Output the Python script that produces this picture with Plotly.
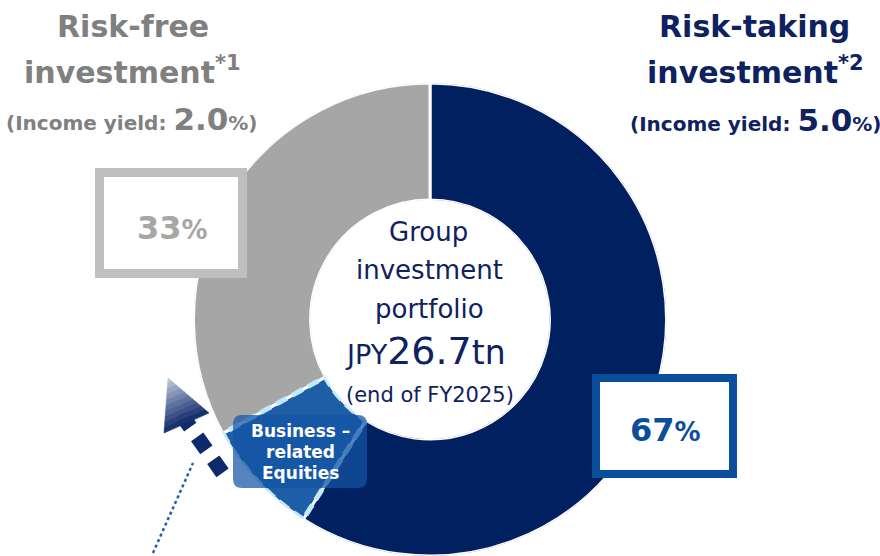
import numpy as np
import plotly.graph_objects as go

W, H = 880, 556

# ---------------- data ----------------
segments = ["Risk-taking investment", "Business-related Equities", "Risk-free investment"]
shares = [59, 8, 33]                      # % of group investment portfolio
seg_colors = ["#002060", "#1e5ea6", "#a6a6a6"]
risk_taking_share = 67
risk_free_share = 33
risk_taking_yield = "5.0"
risk_free_yield = "2.0"
portfolio_total = "26.7"
fiscal_year = "FY2025"

FONT = "DejaVu Sans"
NAVY = "#0e2160"
GRAY_T = "#808080"
BLUE = "#0b4f9c"


def px(x):
    return x / W


def py(y):
    return 1 - y / H


# ---------------- donut (barpolar) ----------------
total = float(sum(shares))
widths = np.array(shares) / total * 360.0
starts = np.concatenate([[0.0], np.cumsum(widths)[:-1]])
centers = starts + widths / 2

fig = go.Figure()
fig.add_trace(go.Barpolar(
    r=[1] * len(shares), theta=centers, width=widths, base=0,
    marker=dict(color=seg_colors, line=dict(color="white", width=3)),
    hoverinfo="skip", showlegend=False,
))

# dashed light-blue outline of the business-related equities slice
a0, a1 = starts[1], starts[1] + widths[1]
arc = np.linspace(a0, a1, 40)
th = np.concatenate([arc, arc[::-1], [a0]])
rr = np.concatenate([np.ones(40), np.zeros(40), [1]])
fig.add_trace(go.Scatterpolar(
    r=rr, theta=th, mode="lines", cliponaxis=False,
    line=dict(color="#c3e7fb", width=5, dash="12px,6px"),
    hoverinfo="skip", showlegend=False,
))

cx, cy, R = 430, 320, 237
fig.update_layout(
    width=W, height=H,
    margin=dict(l=0, r=0, t=0, b=0),
    paper_bgcolor="white", plot_bgcolor="white",
    showlegend=False,
    polar=dict(
        domain=dict(x=[px(cx - R), px(cx + R)], y=[0, py(cy - R)]),
        hole=0.505,
        bgcolor="rgba(0,0,0,0)",
        radialaxis=dict(visible=False, range=[0, 1]),
        angularaxis=dict(visible=False, rotation=90, direction="clockwise"),
    ),
)

shapes = []
annotations = []


def ann(x, y, text, size, color, bold=False):
    annotations.append(dict(
        x=px(x), y=py(y), xref="paper", yref="paper", text=text, showarrow=False,
        xanchor="center", yanchor="middle",
        font=dict(family=FONT, size=size, color=color, weight="bold" if bold else "normal"),
    ))


def rounded_rect(x0, y0, x1, y1, r):
    X0, X1 = px(x0), px(x1)
    Y0, Y1 = py(y0), py(y1)
    rx, ry = r / W, r / H
    return (f"M {X0+rx},{Y0} L {X1-rx},{Y0} Q {X1},{Y0} {X1},{Y0-ry} "
            f"L {X1},{Y1+ry} Q {X1},{Y1} {X1-rx},{Y1} L {X0+rx},{Y1} "
            f"Q {X0},{Y1} {X0},{Y1+ry} L {X0},{Y0-ry} Q {X0},{Y0} {X0+rx},{Y0} Z")


# percentage boxes
shapes.append(dict(type="rect", xref="paper", yref="paper",
                   x0=px(99.5), x1=px(242.5), y0=py(273.5), y1=py(172.5),
                   line=dict(color="#bfbfbf", width=9), fillcolor="white"))
shapes.append(dict(type="rect", xref="paper", yref="paper",
                   x0=px(596), x1=px(733), y0=py(474), y1=py(378),
                   line=dict(color=BLUE, width=8), fillcolor="white"))

# dotted connector line
shapes.append(dict(type="line", xref="paper", yref="paper",
                   x0=px(153), y0=py(553), x1=px(193), y1=py(463),
                   line=dict(color="#1f5fa6", width=2.5, dash="dot")))
# dashed arrow body
shapes.append(dict(type="line", xref="paper", yref="paper",
                   x0=px(181), y0=py(414), x1=px(229), y1=py(482),
                   line=dict(color="#0e2a6a", width=15, dash="16px,12px")))
# arrow head with gradient (bands)
T = np.array([168.0, 378.0])
B1 = np.array([164.0, 433.0])
B2 = np.array([209.0, 413.0])
c_tip = np.array([196, 206, 226])
c_base = np.array([14, 40, 104])
n = 10
for k in range(n):
    f0, f1 = k / n, (k + 1) / n
    p1 = T + f0 * (B1 - T)
    p2 = T + f1 * (B1 - T)
    p3 = T + f1 * (B2 - T)
    p4 = T + f0 * (B2 - T)
    c = (c_tip + (c_base - c_tip) * ((f0 + f1) / 2)).astype(int)
    col = f"rgb({c[0]},{c[1]},{c[2]})"
    path = (f"M {px(p1[0])},{py(p1[1])} L {px(p2[0])},{py(p2[1])} "
            f"L {px(p3[0])},{py(p3[1])} L {px(p4[0])},{py(p4[1])} Z")
    shapes.append(dict(type="path", xref="paper", yref="paper", path=path,
                       fillcolor=col, line=dict(color=col, width=0.6)))

# business-related equities label box
shapes.append(dict(type="path", xref="paper", yref="paper",
                   path=rounded_rect(233, 415, 367, 488, 9),
                   fillcolor="rgba(20,85,165,0.72)", line=dict(width=0)))

# ---------------- texts ----------------
# left title
ann(133, 26, "Risk-free", 30, GRAY_T, True)
ann(132, 71, "investment<sup>*1</sup>", 30, GRAY_T, True)
ann(131, 119, "(Income yield: <span style='font-size:31px'>" + risk_free_yield + "</span>%)", 20, GRAY_T, True)
# right title
ann(754, 26, "Risk-taking", 30, NAVY, True)
ann(755, 71, "investment<sup>*2</sup>", 30, NAVY, True)
ann(755, 120, "(Income yield: <span style='font-size:31px'>" + risk_taking_yield + "</span>%)", 20, NAVY, True)

# percentages
ann(172, 228, f"{risk_free_share}<span style='font-size:26px'>%</span>", 32, "#a6a6a6", True)
ann(665, 430, f"{risk_taking_share}<span style='font-size:26px'>%</span>", 32, BLUE, True)

# centre
ann(428, 232, "Group", 26, NAVY)
ann(429, 270, "investment", 26, NAVY)
ann(429, 309, "portfolio", 26, NAVY)
ann(425, 351, "<span style='font-size:27px'>JPY</span>" + portfolio_total + "<span style='font-size:33px'>tn</span>", 38, NAVY)
ann(430, 395, f"(end of {fiscal_year})", 21, NAVY)

# business-related equities label
ann(300, 431, "Business –", 17, "white", True)
ann(300, 452, "related", 17, "white", True)
ann(300, 473, "Equities", 17, "white", True)

fig.update_layout(shapes=shapes, annotations=annotations)
fig.write_html("out.html", config={"displayModeBar": False},
               post_script="document.body.style.margin='0';document.body.style.padding='0';")
